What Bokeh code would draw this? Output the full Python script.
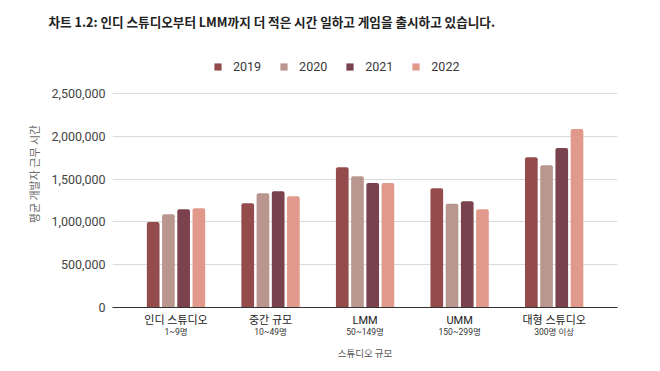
from bokeh.plotting import figure
from bokeh.models import (ColumnDataSource, Legend, LegendItem, Title, LinearAxis,
                          NumeralTickFormatter, FixedTicker)
from bokeh.embed import file_html
from bokeh.resources import INLINE

# ---- data ----
categories = ["인디 스튜디오", "중간 규모", "LMM", "UMM", "대형 스튜디오"]
sublabels = ["1~9명", "10~49명", "50~149명", "150~299명", "300명 이상"]
years = ["2019", "2020", "2021", "2022"]
hours_2019 = [1000000, 1217000, 1638000, 1393000, 1755000]
hours_2020 = [1089000, 1334000, 1533000, 1213000, 1661000]
hours_2021 = [1147000, 1357000, 1454000, 1240000, 1863000]
hours_2022 = [1159000, 1299000, 1454000, 1147000, 2085000]
y_ticks = [0, 500000, 1000000, 1500000, 2000000, 2500000]

title_text = "차트 1.2: 인디 스튜디오부터 LMM까지 더 적은 시간 일하고 게임을 출시하고 있습니다."
y_title = "평균 개발자 근무 시간"
x_title = "스튜디오 규모"

series = [hours_2019, hours_2020, hours_2021, hours_2022]
colors = ["#944b4c", "#b9978f", "#7a424c", "#e1998c"]

KR = "'Noto Sans CJK KR', 'Noto Sans', sans-serif"
NUM = "Roboto, 'Noto Sans CJK KR', sans-serif"

# layout: gridded area is 214 px tall; the frame extends higher to hold the legend
FRAME_TOP = 40
FRAME_H = 307 - FRAME_TOP
Y_END = y_ticks[-1] * FRAME_H / 214

p = figure(frame_width=505, frame_height=FRAME_H,
           x_range=(-0.672, 4.67), y_range=(0, Y_END),
           min_border_left=112, min_border_right=35,
           min_border_top=FRAME_TOP, min_border_bottom=56,
           output_backend="svg", toolbar_location=None,
           outline_line_color=None, background_fill_color="white")

step = 0.161
width = 0.134
renderers = []
for j, (vals, col) in enumerate(zip(series, colors)):
    xs = [i + (j - 1.5) * step for i in range(len(categories))]
    src = ColumnDataSource(dict(x=xs, top=vals))
    r = p.vbar(x="x", top="top", width=width, source=src, fill_color=col,
               line_color=None, border_radius=(2, 2, 0, 0))
    renderers.append(r)

# y axis
p.yaxis.ticker = FixedTicker(ticks=y_ticks)
p.yaxis.formatter = NumeralTickFormatter(format="0,0")
p.yaxis.axis_line_color = None
p.yaxis.major_tick_line_color = None
p.yaxis.minor_tick_line_color = None
p.yaxis.major_tick_out = 0
p.yaxis.major_label_standoff = 7
p.yaxis.major_label_text_font = NUM
p.yaxis.major_label_text_font_size = "12.5px"
p.yaxis.major_label_text_color = "#444444"

# x axis: category names
cat_ticks = list(range(len(categories)))
xa = p.xaxis[0]
xa.ticker = FixedTicker(ticks=cat_ticks)
xa.major_label_overrides = {i: c for i, c in zip(cat_ticks, categories)}
xa.major_tick_line_color = None
xa.minor_tick_line_color = None
xa.major_tick_out = 0
xa.major_tick_in = 0
xa.major_label_standoff = 6
xa.major_label_text_font = NUM
xa.major_label_text_font_size = "11px"
xa.major_label_text_color = "#222222"
xa.axis_line_color = "#333333"
xa.axis_line_width = 1

# second x axis: size ranges
xa2 = LinearAxis(ticker=FixedTicker(ticks=cat_ticks),
                 major_label_overrides={i: s for i, s in zip(cat_ticks, sublabels)},
                 axis_line_color=None, major_tick_line_color=None,
                 minor_tick_line_color=None, major_tick_out=0, major_tick_in=0,
                 major_label_standoff=-3, major_label_text_font=NUM,
                 major_label_text_font_size="8.5px", major_label_text_color="#333333")
p.add_layout(xa2, "below")

p.xgrid.grid_line_color = None
p.ygrid.ticker = FixedTicker(ticks=y_ticks)
p.ygrid.grid_line_color = "#dadada"
p.ygrid.grid_line_width = 1

# legend inside the (extended) frame, above the grid
legend = Legend(items=[LegendItem(label=y, renderers=[r]) for y, r in zip(years, renderers)],
                orientation="horizontal", location=(101, 233),
                glyph_width=9, glyph_height=9, label_height=9,
                label_standoff=11, spacing=18, padding=0, margin=0,
                border_line_color=None, background_fill_alpha=0,
                label_text_font=NUM, label_text_font_size="12.5px",
                label_text_color="#3a3a3a")
p.add_layout(legend)

# chart title
p.add_layout(Title(text=title_text, align="left", offset=-64, standoff=19,
                   text_font=KR, text_font_size="12.6px", text_font_style="bold",
                   text_color="#222222"), "above")

# y axis title
p.add_layout(Title(text=y_title, align="center", offset=8, standoff=13,
                   text_font=KR, text_font_size="11px", text_font_style="normal",
                   text_color="#6a6a6a"), "left")

# x axis title
p.add_layout(Title(text=x_title, align="center", offset=-40, standoff=8,
                   text_font=KR, text_font_size="9.5px", text_font_style="normal",
                   text_color="#555555"), "below")

open("out.html", "w").write(file_html(p, INLINE))
